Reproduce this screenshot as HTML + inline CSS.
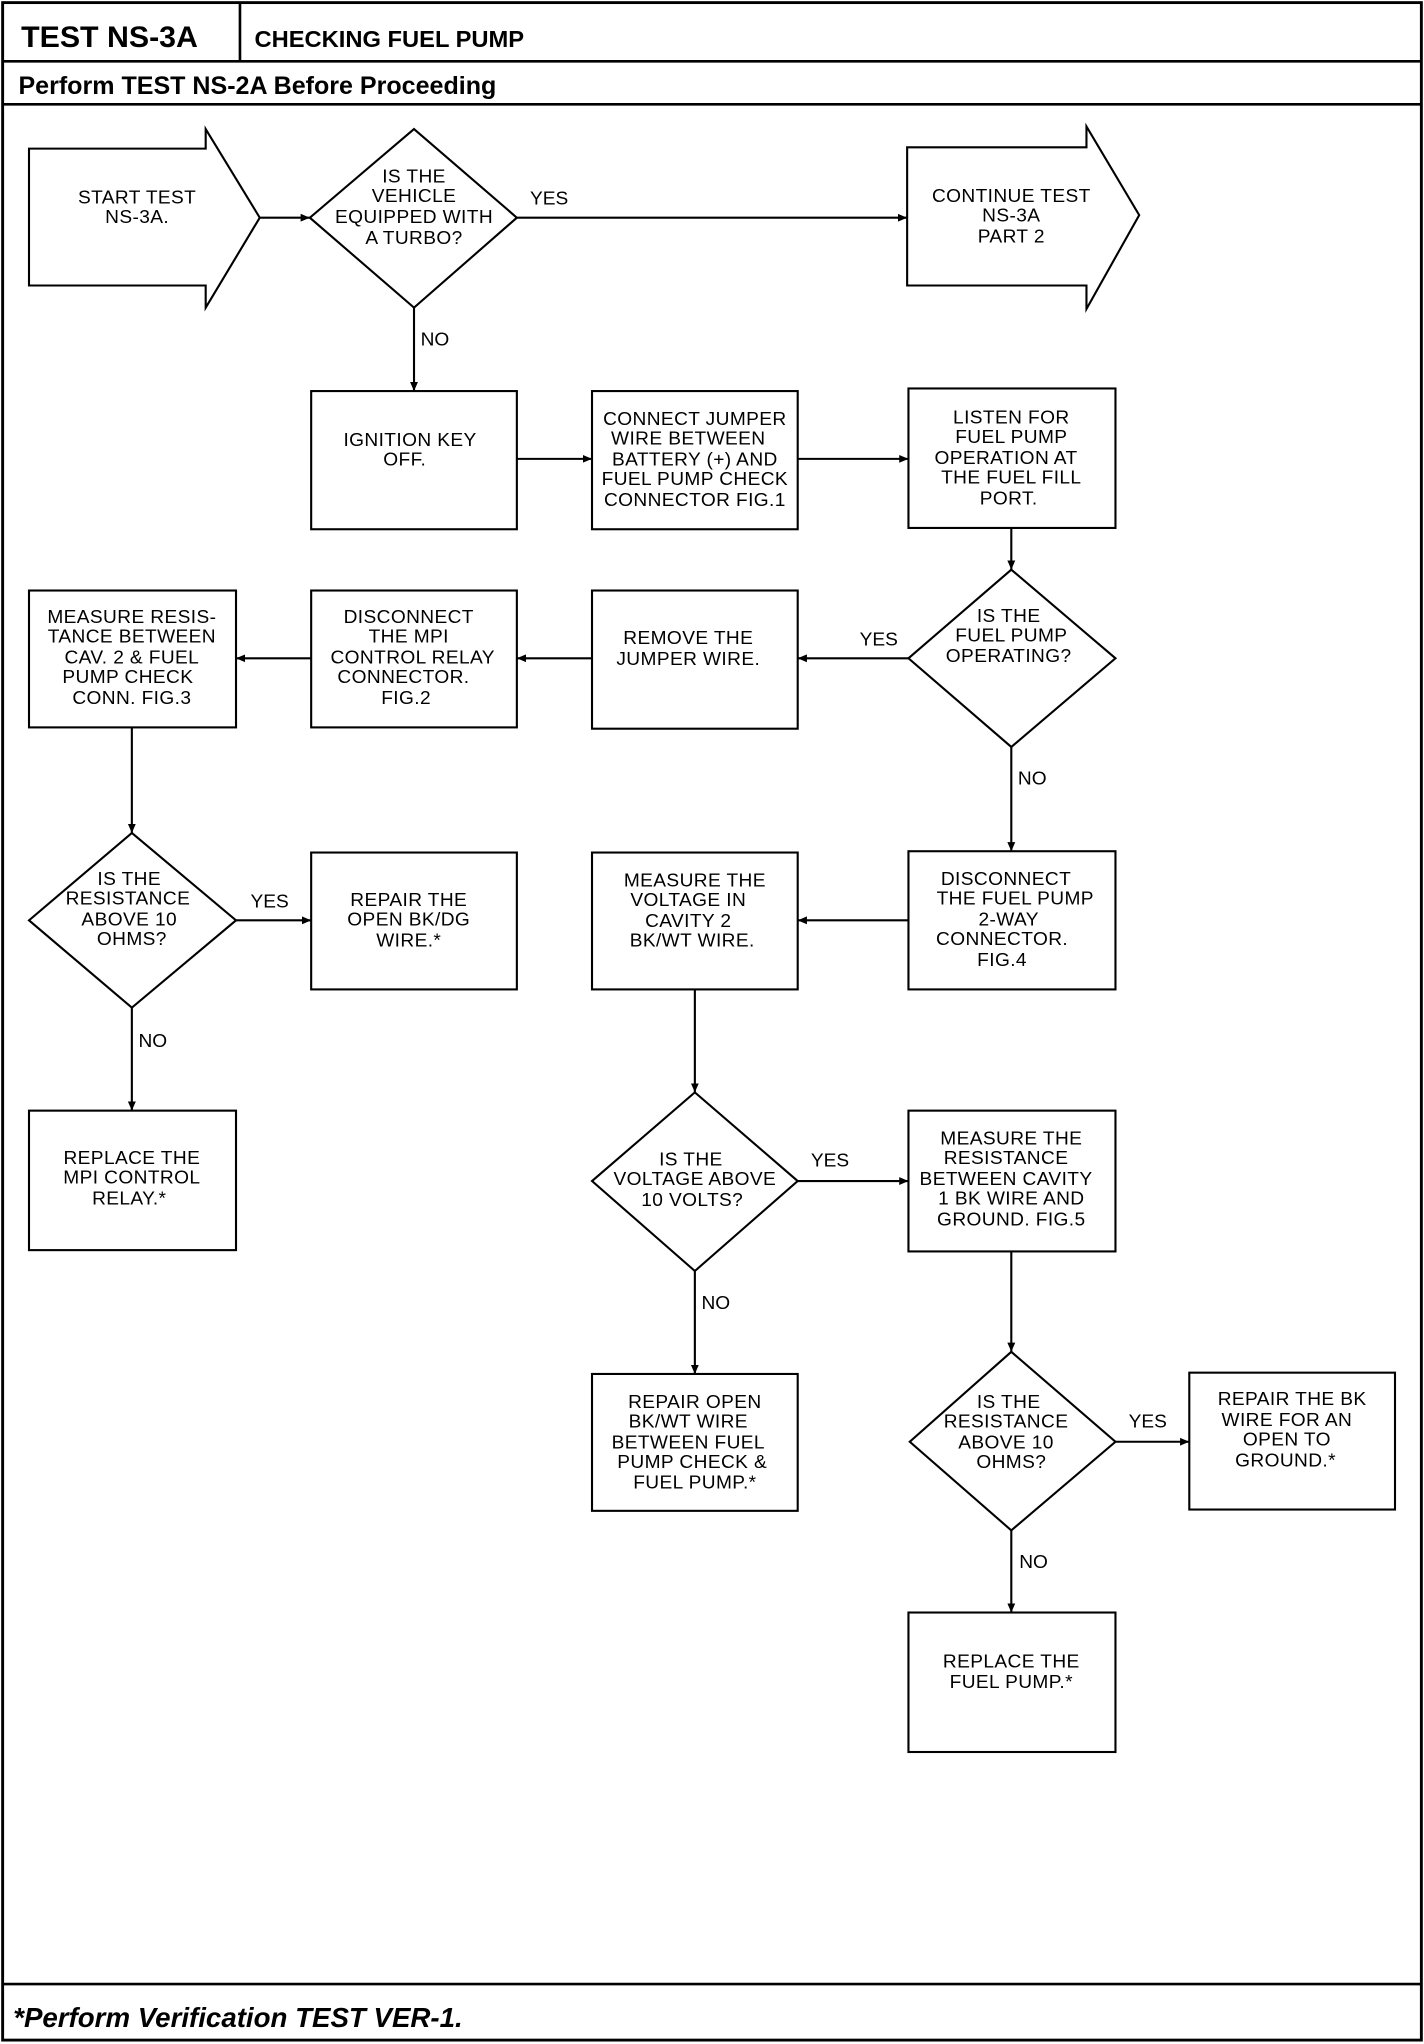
<!DOCTYPE html>
<html><head><meta charset="utf-8"><style>
html,body{margin:0;padding:0;background:#fff;}
svg{display:block;}
.t{font-family:"Liberation Sans",sans-serif;font-size:14.5px;text-anchor:middle;fill:#000;letter-spacing:0.3px;}
.l{font-family:"Liberation Sans",sans-serif;font-size:14.5px;fill:#000;}
.s{fill:none;stroke:#000;stroke-width:1.6;}
</style></head><body>
<svg width="1424" height="2044" viewBox="0 0 1080 1568" preserveAspectRatio="none" xmlns="http://www.w3.org/2000/svg">
<defs><marker id="a" markerWidth="8" markerHeight="8" refX="7" refY="4" orient="auto" markerUnits="userSpaceOnUse"><path d="M0,1 L7,4 L0,7 z" fill="#000"/></marker></defs>
<rect x="2" y="2" width="1076" height="1563" fill="none" stroke="#000" stroke-width="2.2"/>
<line x1="2" y1="47" x2="1078" y2="47" stroke="#000" stroke-width="2"/>
<line x1="182" y1="2" x2="182" y2="47" stroke="#000" stroke-width="2"/>
<line x1="2" y1="80" x2="1078" y2="80" stroke="#000" stroke-width="2"/>
<line x1="2" y1="1522" x2="1078" y2="1522" stroke="#000" stroke-width="2"/>
<text x="16" y="36" style="font-family:'Liberation Sans',sans-serif;font-weight:bold;font-size:23px">TEST NS-3A</text>
<text x="193" y="36" style="font-family:'Liberation Sans',sans-serif;font-weight:bold;font-size:18px">CHECKING FUEL PUMP</text>
<text x="14" y="72" style="font-family:'Liberation Sans',sans-serif;font-weight:bold;font-size:19px">Perform TEST NS-2A Before Proceeding</text>
<text x="10" y="1555" style="font-family:'Liberation Sans',sans-serif;font-weight:bold;font-style:italic;font-size:21px">*Perform Verification TEST VER-1.</text>

<!-- shapes -->
<path class="s" d="M22,114 L156,114 L156,99 L197,167 L156,236 L156,219 L22,219 Z"/>
<path class="s" d="M688,113 L824,113 L824,97 L864,165 L824,237 L824,219 L688,219 Z"/>
<path class="s" d="M314,99 L392,167 L314,236 L235,167 Z"/>
<path class="s" d="M767,437 L846,505 L767,573 L689,505 Z"/>
<path class="s" d="M100,639 L179,706 L100,773 L22,706 Z"/>
<path class="s" d="M527,838 L605,906 L527,975 L449,906 Z"/>
<path class="s" d="M767,1037 L846,1106 L767,1174 L690,1106 Z"/>
<rect class="s" x="236" y="300" width="156" height="106"/>
<rect class="s" x="449" y="300" width="156" height="106"/>
<rect class="s" x="689" y="298" width="157" height="107"/>
<rect class="s" x="449" y="453" width="156" height="106"/>
<rect class="s" x="236" y="453" width="156" height="105"/>
<rect class="s" x="22" y="453" width="157" height="105"/>
<rect class="s" x="236" y="654" width="156" height="105"/>
<rect class="s" x="22" y="852" width="157" height="107"/>
<rect class="s" x="689" y="653" width="157" height="106"/>
<rect class="s" x="449" y="654" width="156" height="105"/>
<rect class="s" x="689" y="852" width="157" height="108"/>
<rect class="s" x="449" y="1054" width="156" height="105"/>
<rect class="s" x="902" y="1053" width="156" height="105"/>
<rect class="s" x="689" y="1237" width="157" height="107"/>

<!-- connectors -->
<g class="s" marker-end="url(#a)">
<line x1="197" y1="167" x2="235" y2="167"/>
<line x1="392" y1="167" x2="688" y2="167"/>
<line x1="314" y1="236" x2="314" y2="300"/>
<line x1="392" y1="352" x2="449" y2="352"/>
<line x1="605" y1="352" x2="689" y2="352"/>
<line x1="767" y1="405" x2="767" y2="437"/>
<line x1="689" y1="505" x2="605" y2="505"/>
<line x1="449" y1="505" x2="392" y2="505"/>
<line x1="236" y1="505" x2="179" y2="505"/>
<line x1="100" y1="558" x2="100" y2="639"/>
<line x1="179" y1="706" x2="236" y2="706"/>
<line x1="100" y1="773" x2="100" y2="852"/>
<line x1="767" y1="573" x2="767" y2="653"/>
<line x1="689" y1="706" x2="605" y2="706"/>
<line x1="527" y1="759" x2="527" y2="838"/>
<line x1="605" y1="906" x2="689" y2="906"/>
<line x1="527" y1="975" x2="527" y2="1054"/>
<line x1="767" y1="960" x2="767" y2="1037"/>
<line x1="846" y1="1106" x2="902" y2="1106"/>
<line x1="767" y1="1174" x2="767" y2="1237"/>
</g>

<!-- labels -->
<text class="l" x="402" y="157">YES</text>
<text class="l" x="319" y="265">NO</text>
<text class="l" x="652" y="495">YES</text>
<text class="l" x="772" y="602">NO</text>
<text class="l" x="190" y="696">YES</text>
<text class="l" x="105" y="803">NO</text>
<text class="l" x="615" y="895">YES</text>
<text class="l" x="532" y="1004">NO</text>
<text class="l" x="856" y="1095">YES</text>
<text class="l" x="773" y="1203">NO</text>

<!-- node texts -->
<g class="t">
<text x="104" y="156">START TEST</text><text x="104" y="171">NS-3A.</text>
<text x="314" y="140">IS THE</text><text x="314" y="155">VEHICLE</text><text x="314" y="171">EQUIPPED WITH</text><text x="314" y="187">A TURBO?</text>
<text x="767" y="155">CONTINUE TEST</text><text x="767" y="170">NS-3A</text><text x="767" y="186">PART 2</text>
<text x="311" y="342">IGNITION KEY</text><text x="307" y="357">OFF.</text>
<text x="527" y="326">CONNECT JUMPER</text><text x="522" y="341">WIRE BETWEEN</text><text x="527" y="357">BATTERY (+) AND</text><text x="527" y="372">FUEL PUMP CHECK</text><text x="527" y="388">CONNECTOR FIG.1</text>
<text x="767" y="325">LISTEN FOR</text><text x="767" y="340">FUEL PUMP</text><text x="763" y="356">OPERATION AT</text><text x="767" y="371">THE FUEL FILL</text><text x="765" y="387">PORT.</text>
<text x="765" y="477">IS THE</text><text x="767" y="492">FUEL PUMP</text><text x="765" y="508">OPERATING?</text>
<text x="522" y="494">REMOVE THE</text><text x="522" y="510">JUMPER WIRE.</text>
<text x="310" y="478">DISCONNECT</text><text x="310" y="493">THE MPI</text><text x="313" y="509">CONTROL RELAY</text><text x="306" y="524">CONNECTOR.</text><text x="308" y="540">FIG.2</text>
<text x="100" y="478">MEASURE RESIS-</text><text x="100" y="493">TANCE BETWEEN</text><text x="100" y="509">CAV. 2 &amp; FUEL</text><text x="97" y="524">PUMP CHECK</text><text x="100" y="540">CONN. FIG.3</text>
<text x="98" y="679">IS THE</text><text x="97" y="694">RESISTANCE</text><text x="98" y="710">ABOVE 10</text><text x="100" y="725">OHMS?</text>
<text x="310" y="695">REPAIR THE</text><text x="310" y="710">OPEN BK/DG</text><text x="310" y="726">WIRE.*</text>
<text x="100" y="893">REPLACE THE</text><text x="100" y="908">MPI CONTROL</text><text x="98" y="924">RELAY.*</text>
<text x="763" y="679">DISCONNECT</text><text x="770" y="694">THE FUEL PUMP</text><text x="765" y="710">2-WAY</text><text x="760" y="725">CONNECTOR.</text><text x="760" y="741">FIG.4</text>
<text x="527" y="680">MEASURE THE</text><text x="522" y="695">VOLTAGE IN</text><text x="522" y="711">CAVITY 2</text><text x="525" y="726">BK/WT WIRE.</text>
<text x="524" y="894">IS THE</text><text x="527" y="909">VOLTAGE ABOVE</text><text x="525" y="925">10 VOLTS?</text>
<text x="767" y="878">MEASURE THE</text><text x="763" y="893">RESISTANCE</text><text x="763" y="909">BETWEEN CAVITY</text><text x="767" y="924">1 BK WIRE AND</text><text x="767" y="940">GROUND. FIG.5</text>
<text x="527" y="1080">REPAIR OPEN</text><text x="522" y="1095">BK/WT WIRE</text><text x="522" y="1111">BETWEEN FUEL</text><text x="525" y="1126">PUMP CHECK &amp;</text><text x="527" y="1142">FUEL PUMP.*</text>
<text x="765" y="1080">IS THE</text><text x="763" y="1095">RESISTANCE</text><text x="763" y="1111">ABOVE 10</text><text x="767" y="1126">OHMS?</text>
<text x="980" y="1078">REPAIR THE BK</text><text x="976" y="1094">WIRE FOR AN</text><text x="976" y="1109">OPEN TO</text><text x="975" y="1125">GROUND.*</text>
<text x="767" y="1279">REPLACE THE</text><text x="767" y="1295">FUEL PUMP.*</text>
</g>
</svg>
</body></html>
